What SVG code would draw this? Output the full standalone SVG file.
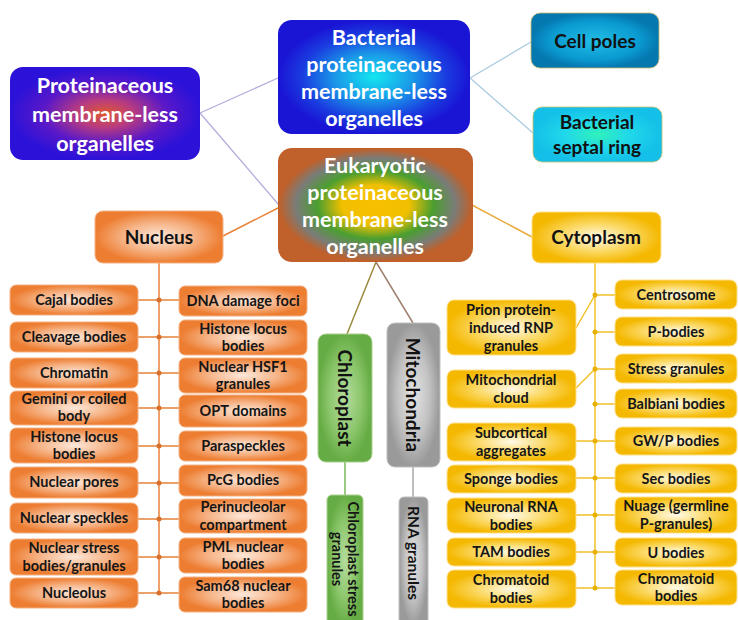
<svg xmlns="http://www.w3.org/2000/svg" width="738" height="620" viewBox="0 0 738 620">
<defs>
<radialGradient id="gProt"><stop offset="0" stop-color="#e0582c"/><stop offset="0.3" stop-color="#b83c80"/><stop offset="0.65" stop-color="#5a18c8"/><stop offset="1" stop-color="#2c12d8"/></radialGradient>
<radialGradient id="gBact"><stop offset="0" stop-color="#14e6f0"/><stop offset="0.4" stop-color="#1a9ae8"/><stop offset="0.75" stop-color="#1a3ce0"/><stop offset="1" stop-color="#1a14d4"/></radialGradient>
<radialGradient id="gPoles"><stop offset="0" stop-color="#22bde6"/><stop offset="0.7" stop-color="#0a9ad0"/><stop offset="1" stop-color="#0578b0"/></radialGradient>
<radialGradient id="gSeptal"><stop offset="0" stop-color="#30f2b8"/><stop offset="0.5" stop-color="#20d8ea"/><stop offset="1" stop-color="#14c0e8"/></radialGradient>
<radialGradient id="gEuk" r="0.62"><stop offset="0" stop-color="#f8c000"/><stop offset="0.28" stop-color="#f0c000"/><stop offset="0.48" stop-color="#4a9e30"/><stop offset="0.66" stop-color="#7a7c78"/><stop offset="0.8" stop-color="#c0602a"/></radialGradient>
<radialGradient id="gOr"><stop offset="0" stop-color="#fde8da"/><stop offset="0.55" stop-color="#f6b386"/><stop offset="1" stop-color="#ed7d31"/></radialGradient>
<radialGradient id="gYe"><stop offset="0" stop-color="#fffaea"/><stop offset="0.55" stop-color="#fbd862"/><stop offset="1" stop-color="#f4b800"/></radialGradient>
<radialGradient id="gGr"><stop offset="0" stop-color="#b4dc9c"/><stop offset="0.6" stop-color="#8cc66c"/><stop offset="1" stop-color="#66ac44"/></radialGradient>
<radialGradient id="gGy"><stop offset="0" stop-color="#e4e4e4"/><stop offset="0.6" stop-color="#c2c2c2"/><stop offset="1" stop-color="#9a9a9a"/></radialGradient>
</defs>
<style>
text{font-family:Lato,"Open Sans","Liberation Sans",sans-serif;font-weight:bold;text-anchor:middle}
.big{font-size:21.5px;fill:#fff}
.mid{font-size:19px;fill:#111}
.s{font-size:14.5px;fill:#151515}
.or{fill:url(#gOr);stroke:#f4b183;stroke-width:1}
.ye{fill:url(#gYe);stroke:#ffe08a;stroke-width:1}
.gr{fill:url(#gGr);stroke:#a9d18e;stroke-width:1}
.gy{fill:url(#gGy);stroke:#bfbfbf;stroke-width:1}
.lo{stroke:#e8823a;stroke-width:1.5;fill:none}
.ly{stroke:#f2c02a;stroke-width:1.5;fill:none}
.dO{fill:#d8702c}
.dY{fill:#e8b000}
</style>

<g id="connectors">
<path d="M200,113 L278,78 M200,113 L279,205" stroke="#b4acdc" stroke-width="1.3" fill="none"/>
<path d="M470,78 L531,42 M470,78 L533,133" stroke="#aacbe0" stroke-width="1.3" fill="none"/>
<path d="M280,207 L223,236" class="lo"/>
<path d="M472,205 L532,237" stroke="#eca83a" stroke-width="1.5" fill="none"/>
<path d="M376,262 L347,334" stroke="#9a8a40" stroke-width="1.5" fill="none"/>
<path d="M376,262 L413,323" stroke="#a08070" stroke-width="1.5" fill="none"/>
<path d="M345,462 L345,495" stroke="#7cb858" stroke-width="1.5" fill="none"/>
<path d="M413,467 L413,497" stroke="#a8a8a8" stroke-width="1.5" fill="none"/>
<path d="M159,263 L159,593" class="lo"/>
<path d="M138,300 H179 M138,337 H179 M138,373 H179 M138,408 H179 M138,446 H179 M138,483 H179 M138,519 H179 M138,557 H179 M138,593 H179" class="lo"/>
<g class="dO">
<circle cx="159" cy="300" r="2.5"/><circle cx="159" cy="337" r="2.5"/><circle cx="159" cy="373" r="2.5"/><circle cx="159" cy="408" r="2.5"/><circle cx="159" cy="446" r="2.5"/><circle cx="159" cy="483" r="2.5"/><circle cx="159" cy="519" r="2.5"/><circle cx="159" cy="557" r="2.5"/><circle cx="159" cy="593" r="2.5"/>
</g>
<path d="M595,263 L595,588" class="ly"/>
<path d="M595,295 H615 M595,332 H615 M595,369 H615 M595,404 H615 M595,441 H615 M595,478 H615 M595,515 H615 M595,552 H615 M595,588 H615" class="ly"/>
<path d="M576,328 L595,295 M576,388 L595,369 M576,441 H595 M576,478 H595 M576,515 H595 M576,552 H595 M576,588 H595" class="ly"/>
<g class="dY">
<circle cx="595" cy="295" r="2.5"/><circle cx="595" cy="332" r="2.5"/><circle cx="595" cy="369" r="2.5"/><circle cx="595" cy="404" r="2.5"/><circle cx="595" cy="441" r="2.5"/><circle cx="595" cy="478" r="2.5"/><circle cx="595" cy="515" r="2.5"/><circle cx="595" cy="552" r="2.5"/><circle cx="595" cy="588" r="2.5"/>
</g>
</g>

<g id="proteinaceous">
<rect x="10" y="67" width="190" height="93" rx="13" fill="url(#gProt)"/>
<text class="big"><tspan x="105" y="93">Proteinaceous</tspan><tspan x="105" y="122">membrane-less</tspan><tspan x="105" y="151">organelles</tspan></text>
</g>
<g id="bacterial">
<rect x="278" y="20" width="192" height="114" rx="14" fill="url(#gBact)"/>
<text class="big"><tspan x="374" y="45">Bacterial</tspan><tspan x="374" y="72">proteinaceous</tspan><tspan x="374" y="99">membrane-less</tspan><tspan x="374" y="126">organelles</tspan></text>
</g>
<g id="cell-poles">
<rect x="531" y="13" width="128" height="55" rx="9" fill="url(#gPoles)" stroke="#c8b870" stroke-width="0.8"/>
<text class="mid" x="595" y="48">Cell poles</text>
</g>
<g id="septal-ring">
<rect x="533" y="107" width="129" height="55" rx="9" fill="url(#gSeptal)" stroke="#c8c070" stroke-width="0.8"/>
<text class="mid"><tspan x="597" y="129">Bacterial</tspan><tspan x="597" y="154">septal ring</tspan></text>
</g>
<g id="eukaryotic">
<rect x="278" y="148" width="195" height="114" rx="14" fill="url(#gEuk)"/>
<text class="big"><tspan x="375" y="173">Eukaryotic</tspan><tspan x="375" y="200">proteinaceous</tspan><tspan x="375" y="227">membrane-less</tspan><tspan x="375" y="254">organelles</tspan></text>
</g>

<g id="nucleus"><rect class="or" x="95" y="211" width="128" height="52" rx="8"/><text class="mid" x="159" y="244">Nucleus</text></g>
<g id="cytoplasm"><rect class="ye" x="532" y="212" width="129" height="51" rx="8"/><text class="mid" x="596" y="244">Cytoplasm</text></g>

<g id="chloroplast"><rect class="gr" x="318" y="334" width="54" height="128" rx="8"/><text class="mid" transform="translate(345,398) rotate(90)" x="0" y="7">Chloroplast</text></g>
<g id="mitochondria"><rect class="gy" x="387" y="323" width="53" height="144" rx="8"/><text class="mid" transform="translate(413,395) rotate(90)" x="0" y="7">Mitochondria</text></g>
<g id="chloroplast-stress-granules"><rect class="gr" x="327" y="495" width="36" height="130" rx="5"/><text class="s" style="font-size:14.5px" transform="translate(345,559) rotate(90)"><tspan x="0" y="-3">Chloroplast stress</tspan><tspan x="0" y="13">granules</tspan></text></g>
<g id="rna-granules"><rect class="gy" x="399" y="497" width="29" height="128" rx="5"/><text class="s" style="font-size:15.5px" transform="translate(413,553) rotate(90)" x="0" y="5.5">RNA granules</text></g>

<g id="n-cajal"><rect class="or" x="10" y="285" width="128" height="30" rx="6"/><text class="s" x="74" y="305">Cajal bodies</text></g>
<g id="n-cleavage"><rect class="or" x="10" y="322" width="128" height="30" rx="6"/><text class="s" x="74" y="342">Cleavage bodies</text></g>
<g id="n-chromatin"><rect class="or" x="10" y="358" width="128" height="30" rx="6"/><text class="s" x="74" y="378">Chromatin</text></g>
<g id="n-gemini"><rect class="or" x="10" y="391" width="128" height="34" rx="6"/><text class="s"><tspan x="74" y="404">Gemini or coiled</tspan><tspan x="74" y="421">body</tspan></text></g>
<g id="n-histone-l"><rect class="or" x="10" y="428" width="128" height="35" rx="6"/><text class="s"><tspan x="74" y="442">Histone locus</tspan><tspan x="74" y="459">bodies</tspan></text></g>
<g id="n-pores"><rect class="or" x="10" y="467" width="128" height="31" rx="6"/><text class="s" x="74" y="487">Nuclear pores</text></g>
<g id="n-speckles"><rect class="or" x="10" y="503" width="128" height="30" rx="6"/><text class="s" x="74" y="523">Nuclear speckles</text></g>
<g id="n-stress"><rect class="or" x="10" y="539" width="128" height="36" rx="6"/><text class="s"><tspan x="74" y="553">Nuclear stress</tspan><tspan x="74" y="571">bodies/granules</tspan></text></g>
<g id="n-nucleolus"><rect class="or" x="10" y="578" width="128" height="30" rx="6"/><text class="s" x="74" y="598">Nucleolus</text></g>
<g id="n-dna"><rect class="or" x="179" y="286" width="128" height="30" rx="6"/><text class="s" x="243" y="306">DNA damage foci</text></g>
<g id="n-histone-r"><rect class="or" x="179" y="320" width="128" height="35" rx="6"/><text class="s"><tspan x="243" y="334">Histone locus</tspan><tspan x="243" y="351">bodies</tspan></text></g>
<g id="n-hsf1"><rect class="or" x="179" y="358" width="128" height="35" rx="6"/><text class="s"><tspan x="243" y="372">Nuclear HSF1</tspan><tspan x="243" y="389">granules</tspan></text></g>
<g id="n-opt"><rect class="or" x="179" y="395" width="128" height="32" rx="6"/><text class="s" x="243" y="416">OPT domains</text></g>
<g id="n-paraspeckles"><rect class="or" x="179" y="431" width="128" height="30" rx="6"/><text class="s" x="243" y="451">Paraspeckles</text></g>
<g id="n-pcg"><rect class="or" x="179" y="465" width="128" height="31" rx="6"/><text class="s" x="243" y="485">PcG bodies</text></g>
<g id="n-perinucleolar"><rect class="or" x="179" y="499" width="128" height="34" rx="6"/><text class="s"><tspan x="243" y="512">Perinucleolar</tspan><tspan x="243" y="530">compartment</tspan></text></g>
<g id="n-pml"><rect class="or" x="179" y="538" width="128" height="35" rx="6"/><text class="s"><tspan x="243" y="552">PML nuclear</tspan><tspan x="243" y="569">bodies</tspan></text></g>
<g id="n-sam68"><rect class="or" x="179" y="577" width="128" height="35" rx="6"/><text class="s"><tspan x="243" y="591">Sam68 nuclear</tspan><tspan x="243" y="608">bodies</tspan></text></g>

<g id="c-prion"><rect class="ye" x="447" y="300" width="129" height="55" rx="7"/><text class="s"><tspan x="511" y="315">Prion protein-</tspan><tspan x="511" y="333">induced RNP</tspan><tspan x="511" y="351">granules</tspan></text></g>
<g id="c-mitocloud"><rect class="ye" x="447" y="370" width="129" height="38" rx="7"/><text class="s"><tspan x="511" y="385">Mitochondrial</tspan><tspan x="511" y="403">cloud</tspan></text></g>
<g id="c-subcortical"><rect class="ye" x="447" y="423" width="129" height="38" rx="7"/><text class="s"><tspan x="511" y="438">Subcortical</tspan><tspan x="511" y="456">aggregates</tspan></text></g>
<g id="c-sponge"><rect class="ye" x="447" y="465" width="129" height="28" rx="7"/><text class="s" x="511" y="484">Sponge bodies</text></g>
<g id="c-neuronal"><rect class="ye" x="447" y="498" width="129" height="35" rx="7"/><text class="s"><tspan x="511" y="512">Neuronal RNA</tspan><tspan x="511" y="530">bodies</tspan></text></g>
<g id="c-tam"><rect class="ye" x="447" y="538" width="129" height="28" rx="7"/><text class="s" x="511" y="557">TAM bodies</text></g>
<g id="c-chromatoid-l"><rect class="ye" x="447" y="570" width="129" height="38" rx="7"/><text class="s"><tspan x="511" y="585">Chromatoid</tspan><tspan x="511" y="603">bodies</tspan></text></g>
<g id="c-centrosome"><rect class="ye" x="615" y="280" width="122" height="29" rx="7"/><text class="s" x="676" y="300">Centrosome</text></g>
<g id="c-pbodies"><rect class="ye" x="615" y="317" width="122" height="29" rx="7"/><text class="s" x="676" y="337">P-bodies</text></g>
<g id="c-stress"><rect class="ye" x="615" y="354" width="122" height="29" rx="7"/><text class="s" x="676" y="374">Stress granules</text></g>
<g id="c-balbiani"><rect class="ye" x="615" y="389" width="122" height="29" rx="7"/><text class="s" x="676" y="409">Balbiani bodies</text></g>
<g id="c-gwp"><rect class="ye" x="615" y="427" width="122" height="28" rx="7"/><text class="s" x="676" y="446">GW/P bodies</text></g>
<g id="c-sec"><rect class="ye" x="615" y="464" width="122" height="29" rx="7"/><text class="s" x="676" y="484">Sec bodies</text></g>
<g id="c-nuage"><rect class="ye" x="615" y="497" width="122" height="36" rx="7"/><text class="s"><tspan x="676" y="511">Nuage (germline</tspan><tspan x="676" y="529">P-granules)</tspan></text></g>
<g id="c-ubodies"><rect class="ye" x="615" y="538" width="122" height="29" rx="7"/><text class="s" x="676" y="558">U bodies</text></g>
<g id="c-chromatoid-r"><rect class="ye" x="615" y="570" width="122" height="35" rx="7"/><text class="s"><tspan x="676" y="584">Chromatoid</tspan><tspan x="676" y="601">bodies</tspan></text></g>
</svg>
